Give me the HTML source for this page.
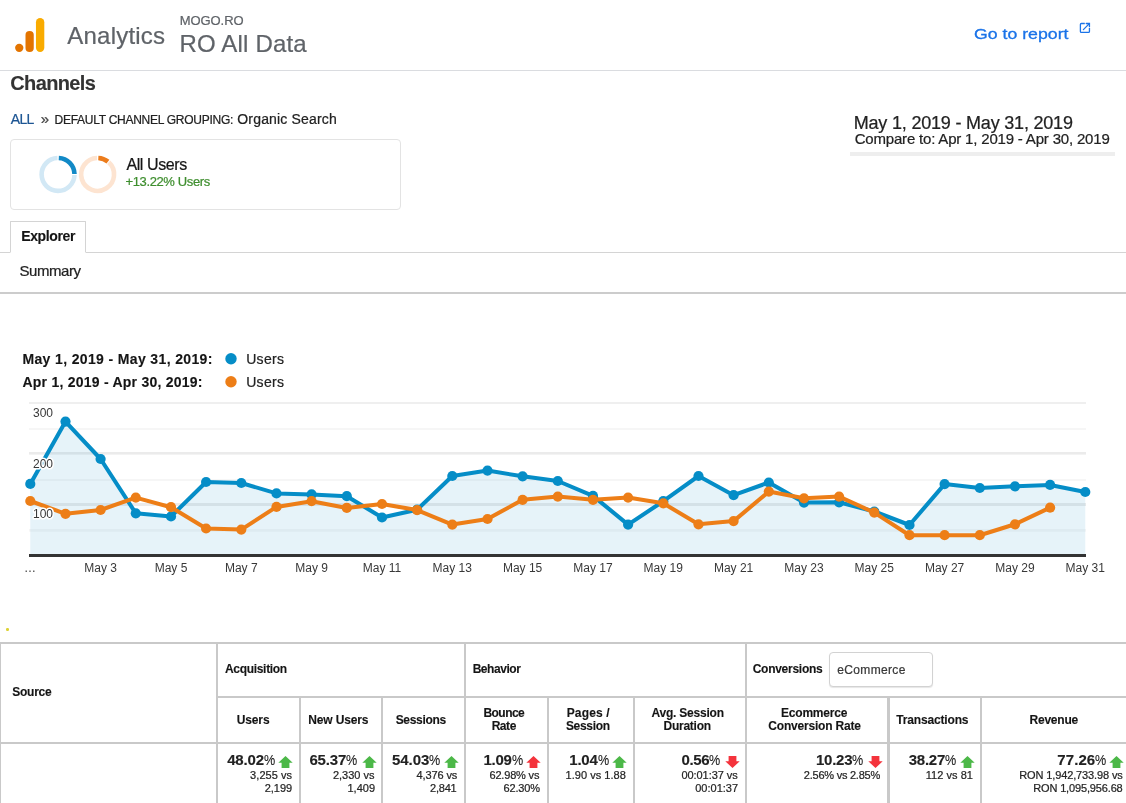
<!DOCTYPE html>
<html><head><meta charset="utf-8"><title>Analytics</title>
<style>
*{box-sizing:border-box;margin:0;padding:0}
html,body{width:1126px;height:803px;overflow:hidden;background:#fff}
body{font-family:"Liberation Sans",Arial,sans-serif;color:#222;position:relative}
.a{position:absolute}
.t{position:absolute;white-space:nowrap;line-height:1}
.t .n{font-weight:normal;display:inline-block;transform:scaleX(.84);transform-origin:0 50%;margin-right:-2.1px;letter-spacing:0}
</style></head><body>
<svg class="a" style="left:14px;top:18px" width="32" height="35" viewBox="14 18 32 35">
  <rect x="35.95" y="18.1" width="8.35" height="33.9" rx="4.17" fill="#f9ab00"/>
  <rect x="25.5" y="31" width="8.25" height="21" rx="4.12" fill="#e37400"/>
  <circle cx="19.25" cy="47.85" r="4.15" fill="#e37400"/>
</svg>
<svg class="a" style="left:1078px;top:21px" width="15" height="15" viewBox="1078 21 15 15" fill="none" stroke="#1a73e8" stroke-width="1.3">
  <path d="M1084.8 23.5H1081.4a1 1 0 0 0 -1 1V31.4a1 1 0 0 0 1 1H1088.45a1 1 0 0 0 1 -1V27.9"/><path d="M1086.2 23.5H1089.45V26.7M1089.3 23.65L1083.4 29.6" stroke-linecap="round"/>
</svg>
<div class="a" style="left:0;top:70px;width:1126px;height:1px;background:#dadce0"></div>
<div class="a" style="left:10px;top:139px;width:391px;height:71px;border:1px solid #e3e3e3;border-radius:4px"></div>
<svg class="a" style="left:38px;top:154px" width="80" height="42" viewBox="38 154 80 42" fill="none" stroke-width="4.6">
  <path d="M74.49 174.97A16.45 16.45 0 1 1 57.48 157.96" stroke="#d2e8f5"/>
  <path d="M58.77 157.97A16.45 16.45 0 0 1 74.49 173.97" stroke="#1289c6"/>
  <path d="M108.71 162.27A16.45 16.45 0 1 1 97.03 157.96" stroke="#fde4d1"/>
  <path d="M98.32 157.97A16.45 16.45 0 0 1 107.95 161.62" stroke="#ec7c1c"/>
</svg>
<div class="a" style="left:850px;top:152px;width:265px;height:4px;background:#eee"></div>
<div class="a" style="left:0;top:252px;width:1126px;height:1px;background:#d4d4d4"></div>
<div class="a" style="left:10px;top:221px;width:76px;height:32px;border:1px solid #d4d4d4;border-bottom-color:#fff;background:#fff;border-radius:1px 1px 0 0"></div>
<div class="a" style="left:0;top:292px;width:1126px;height:2px;background:#ccc"></div>
<svg class="a" style="left:222px;top:350px" width="18" height="40" viewBox="222 350 18 40"><circle cx="231" cy="358.7" r="5.7" fill="#058dc7"/><circle cx="231" cy="381.8" r="5.7" fill="#ed7e17"/></svg>
<div class="a" style="left:6px;top:628px;width:3px;height:3px;background:#ddd235;border-radius:1.2px"></div>
<svg class="a" style="left:0;top:395px" width="1126" height="190" viewBox="0 395 1126 190" font-family="'Liberation Sans',Arial,sans-serif" font-size="12">
<rect x="29" y="402" width="1057" height="2" fill="#efefef"/>
<rect x="29" y="428" width="1057" height="2" fill="#f6f6f6"/>
<rect x="29" y="452" width="1057" height="2.6" fill="#ebebeb"/>
<rect x="29" y="479" width="1057" height="2" fill="#f6f6f6"/>
<rect x="29" y="503" width="1057" height="3" fill="#ebebeb"/>
<rect x="29" y="529" width="1057" height="2.6" fill="#f6f6f6"/>
<polygon points="30.3,483.9 65.5,421.6 100.6,459.0 135.8,513.3 171.0,516.5 206.1,482.0 241.3,483.0 276.5,493.4 311.6,494.4 346.8,496.2 382.0,517.5 417.1,509.7 452.3,476.0 487.5,470.6 522.6,476.3 557.8,481.0 593.0,495.9 628.1,524.6 663.3,501.2 698.5,476.0 733.6,495.2 768.8,482.5 804.0,502.6 839.1,502.3 874.3,511.5 909.5,525.0 944.6,484.1 979.8,488.0 1015.0,486.3 1050.1,484.9 1085.3,492.0 1085.3,554 30.3,554" fill="#058dc7" fill-opacity="0.1"/>
<rect x="29" y="554" width="1057" height="3" fill="#333"/>
<polyline points="30.3,483.9 65.5,421.6 100.6,459.0 135.8,513.3 171.0,516.5 206.1,482.0 241.3,483.0 276.5,493.4 311.6,494.4 346.8,496.2 382.0,517.5 417.1,509.7 452.3,476.0 487.5,470.6 522.6,476.3 557.8,481.0 593.0,495.9 628.1,524.6 663.3,501.2 698.5,476.0 733.6,495.2 768.8,482.5 804.0,502.6 839.1,502.3 874.3,511.5 909.5,525.0 944.6,484.1 979.8,488.0 1015.0,486.3 1050.1,484.9 1085.3,492.0" fill="none" stroke="#058dc7" stroke-width="4.05" stroke-linejoin="round" stroke-linecap="round"/>
<g fill="#058dc7"><circle cx="30.3" cy="483.9" r="5.1"/><circle cx="65.5" cy="421.6" r="5.1"/><circle cx="100.6" cy="459.0" r="5.1"/><circle cx="135.8" cy="513.3" r="5.1"/><circle cx="171.0" cy="516.5" r="5.1"/><circle cx="206.1" cy="482.0" r="5.1"/><circle cx="241.3" cy="483.0" r="5.1"/><circle cx="276.5" cy="493.4" r="5.1"/><circle cx="311.6" cy="494.4" r="5.1"/><circle cx="346.8" cy="496.2" r="5.1"/><circle cx="382.0" cy="517.5" r="5.1"/><circle cx="417.1" cy="509.7" r="5.1"/><circle cx="452.3" cy="476.0" r="5.1"/><circle cx="487.5" cy="470.6" r="5.1"/><circle cx="522.6" cy="476.3" r="5.1"/><circle cx="557.8" cy="481.0" r="5.1"/><circle cx="593.0" cy="495.9" r="5.1"/><circle cx="628.1" cy="524.6" r="5.1"/><circle cx="663.3" cy="501.2" r="5.1"/><circle cx="698.5" cy="476.0" r="5.1"/><circle cx="733.6" cy="495.2" r="5.1"/><circle cx="768.8" cy="482.5" r="5.1"/><circle cx="804.0" cy="502.6" r="5.1"/><circle cx="839.1" cy="502.3" r="5.1"/><circle cx="874.3" cy="511.5" r="5.1"/><circle cx="909.5" cy="525.0" r="5.1"/><circle cx="944.6" cy="484.1" r="5.1"/><circle cx="979.8" cy="488.0" r="5.1"/><circle cx="1015.0" cy="486.3" r="5.1"/><circle cx="1050.1" cy="484.9" r="5.1"/><circle cx="1085.3" cy="492.0" r="5.1"/></g>
<polyline points="30.3,501.0 65.5,513.8 100.6,510.0 135.8,497.6 171.0,507.2 206.1,528.5 241.3,529.6 276.5,506.9 311.6,501.2 346.8,507.9 382.0,504.0 417.1,510.1 452.3,524.6 487.5,519.0 522.6,499.8 557.8,496.6 593.0,499.8 628.1,497.6 663.3,503.3 698.5,524.3 733.6,521.1 768.8,491.6 804.0,498.3 839.1,496.6 874.3,512.6 909.5,535.2 944.6,535.2 979.8,535.2 1015.0,524.3 1050.1,507.6" fill="none" stroke="#ed7e17" stroke-width="4.05" stroke-linejoin="round" stroke-linecap="round"/>
<g fill="#ed7e17"><circle cx="30.3" cy="501.0" r="5.1"/><circle cx="65.5" cy="513.8" r="5.1"/><circle cx="100.6" cy="510.0" r="5.1"/><circle cx="135.8" cy="497.6" r="5.1"/><circle cx="171.0" cy="507.2" r="5.1"/><circle cx="206.1" cy="528.5" r="5.1"/><circle cx="241.3" cy="529.6" r="5.1"/><circle cx="276.5" cy="506.9" r="5.1"/><circle cx="311.6" cy="501.2" r="5.1"/><circle cx="346.8" cy="507.9" r="5.1"/><circle cx="382.0" cy="504.0" r="5.1"/><circle cx="417.1" cy="510.1" r="5.1"/><circle cx="452.3" cy="524.6" r="5.1"/><circle cx="487.5" cy="519.0" r="5.1"/><circle cx="522.6" cy="499.8" r="5.1"/><circle cx="557.8" cy="496.6" r="5.1"/><circle cx="593.0" cy="499.8" r="5.1"/><circle cx="628.1" cy="497.6" r="5.1"/><circle cx="663.3" cy="503.3" r="5.1"/><circle cx="698.5" cy="524.3" r="5.1"/><circle cx="733.6" cy="521.1" r="5.1"/><circle cx="768.8" cy="491.6" r="5.1"/><circle cx="804.0" cy="498.3" r="5.1"/><circle cx="839.1" cy="496.6" r="5.1"/><circle cx="874.3" cy="512.6" r="5.1"/><circle cx="909.5" cy="535.2" r="5.1"/><circle cx="944.6" cy="535.2" r="5.1"/><circle cx="979.8" cy="535.2" r="5.1"/><circle cx="1015.0" cy="524.3" r="5.1"/><circle cx="1050.1" cy="507.6" r="5.1"/></g>
<text x="33" y="417" fill="#383838" stroke="#fff" stroke-width="3" stroke-linejoin="round" paint-order="stroke">300</text>
<text x="33" y="468" fill="#383838" stroke="#fff" stroke-width="3" stroke-linejoin="round" paint-order="stroke">200</text>
<text x="33" y="518" fill="#383838" stroke="#fff" stroke-width="3" stroke-linejoin="round" paint-order="stroke">100</text>
<text x="30" y="572" fill="#383838" text-anchor="middle">…</text>
<text x="100.6" y="572" fill="#383838" text-anchor="middle">May 3</text>
<text x="171.0" y="572" fill="#383838" text-anchor="middle">May 5</text>
<text x="241.3" y="572" fill="#383838" text-anchor="middle">May 7</text>
<text x="311.6" y="572" fill="#383838" text-anchor="middle">May 9</text>
<text x="382.0" y="572" fill="#383838" text-anchor="middle">May 11</text>
<text x="452.3" y="572" fill="#383838" text-anchor="middle">May 13</text>
<text x="522.6" y="572" fill="#383838" text-anchor="middle">May 15</text>
<text x="593.0" y="572" fill="#383838" text-anchor="middle">May 17</text>
<text x="663.3" y="572" fill="#383838" text-anchor="middle">May 19</text>
<text x="733.6" y="572" fill="#383838" text-anchor="middle">May 21</text>
<text x="804.0" y="572" fill="#383838" text-anchor="middle">May 23</text>
<text x="874.3" y="572" fill="#383838" text-anchor="middle">May 25</text>
<text x="944.6" y="572" fill="#383838" text-anchor="middle">May 27</text>
<text x="1015.0" y="572" fill="#383838" text-anchor="middle">May 29</text>
<text x="1085.3" y="572" fill="#383838" text-anchor="middle">May 31</text>
</svg>
<div class="a" style="left:0px;top:642px;width:1126px;height:2px;background:#c9c9c9"></div>
<div class="a" style="left:216px;top:696px;width:910px;height:2px;background:#c9c9c9"></div>
<div class="a" style="left:0px;top:742px;width:1126px;height:2px;background:#c9c9c9"></div>
<div class="a" style="left:0px;top:642px;width:1px;height:161px;background:#c9c9c9"></div>
<div class="a" style="left:216px;top:642px;width:2px;height:161px;background:#c9c9c9"></div>
<div class="a" style="left:299px;top:696px;width:2px;height:107px;background:#c9c9c9"></div>
<div class="a" style="left:381px;top:696px;width:2px;height:107px;background:#c9c9c9"></div>
<div class="a" style="left:547px;top:696px;width:2px;height:107px;background:#c9c9c9"></div>
<div class="a" style="left:633px;top:696px;width:2px;height:107px;background:#c9c9c9"></div>
<div class="a" style="left:980px;top:696px;width:2px;height:107px;background:#c9c9c9"></div>
<div class="a" style="left:464px;top:642px;width:2px;height:161px;background:#c9c9c9"></div>
<div class="a" style="left:745px;top:642px;width:2px;height:161px;background:#c9c9c9"></div>
<div class="a" style="left:887px;top:696px;width:3px;height:107px;background:#c9c9c9"></div>
<div class="a" style="left:829px;top:652px;width:104px;height:35px;border:1px solid #d2d2d2;border-radius:4px;background:#fff;box-shadow:0 1px 1px rgba(0,0,0,0.10)"></div>
<svg class="a" style="left:278.2px;top:755.9px" width="15" height="12" viewBox="-0.5 0 15 12"><path d="M7 0L14.2 6.7H10.9V12H3.1V6.7H-0.2Z" fill="#4cb848"/></svg>
<svg class="a" style="left:361.6px;top:755.9px" width="15" height="12" viewBox="-0.5 0 15 12"><path d="M7 0L14.2 6.7H10.9V12H3.1V6.7H-0.2Z" fill="#4cb848"/></svg>
<svg class="a" style="left:444.1px;top:755.9px" width="15" height="12" viewBox="-0.5 0 15 12"><path d="M7 0L14.2 6.7H10.9V12H3.1V6.7H-0.2Z" fill="#4cb848"/></svg>
<svg class="a" style="left:526.3px;top:755.9px" width="15" height="12" viewBox="-0.5 0 15 12"><path d="M7 0L14.2 6.7H10.9V12H3.1V6.7H-0.2Z" fill="#f4333c"/></svg>
<svg class="a" style="left:612.3px;top:755.9px" width="15" height="12" viewBox="-0.5 0 15 12"><path d="M7 0L14.2 6.7H10.9V12H3.1V6.7H-0.2Z" fill="#4cb848"/></svg>
<svg class="a" style="left:724.6px;top:755.9px" width="15" height="12" viewBox="-0.5 0 15 12"><path d="M3.1 0H10.9V5.3H14.2L7 12L-0.2 5.3H3.1Z" fill="#f4333c"/></svg>
<svg class="a" style="left:867.6px;top:755.9px" width="15" height="12" viewBox="-0.5 0 15 12"><path d="M3.1 0H10.9V5.3H14.2L7 12L-0.2 5.3H3.1Z" fill="#f4333c"/></svg>
<svg class="a" style="left:960.0px;top:755.9px" width="15" height="12" viewBox="-0.5 0 15 12"><path d="M7 0L14.2 6.7H10.9V12H3.1V6.7H-0.2Z" fill="#4cb848"/></svg>
<svg class="a" style="left:1109.4px;top:755.9px" width="15" height="12" viewBox="-0.5 0 15 12"><path d="M7 0L14.2 6.7H10.9V12H3.1V6.7H-0.2Z" fill="#4cb848"/></svg>
<div class="t" style="left:67.25px;top:24.00px;font-size:24px;color:#5f6368;letter-spacing:0.225px;-webkit-text-stroke:0.22px;">Analytics</div>
<div class="t" style="left:179.75px;top:14.00px;font-size:13px;color:#5f6368;letter-spacing:-0.075px;-webkit-text-stroke:0.22px;">MOGO.RO</div>
<div class="t" style="left:179.45px;top:32.00px;font-size:24px;color:#5f6368;letter-spacing:0.180px;-webkit-text-stroke:0.22px;">RO All Data</div>
<div class="t" style="left:973.65px;top:26.00px;font-size:15px;color:#1a73e8;transform-origin:0 0;transform:scaleX(1.1801);-webkit-text-stroke:0.3px #1a73e8;">Go to report</div>
<div class="t" style="left:10.30px;top:73.00px;font-size:20px;font-weight:bold;color:#333;letter-spacing:-0.643px;-webkit-text-stroke:0.12px;">Channels</div>
<div class="t" style="left:10.85px;top:112.00px;font-size:14px;color:#1c5593;letter-spacing:-0.675px;-webkit-text-stroke:0.22px;">ALL</div>
<div class="t" style="left:40.65px;top:111.00px;font-size:15px;color:#444;letter-spacing:0.450px;-webkit-text-stroke:0.22px;">»</div>
<div class="t" style="left:54.50px;top:114.00px;font-size:12px;color:#222;letter-spacing:-0.262px;-webkit-text-stroke:0.22px;">DEFAULT CHANNEL GROUPING:</div>
<div class="t" style="left:237.30px;top:112.00px;font-size:14px;color:#222;letter-spacing:0.173px;-webkit-text-stroke:0.22px;">Organic Search</div>
<div class="t" style="left:126.40px;top:157.00px;font-size:16px;color:#151515;letter-spacing:-0.394px;-webkit-text-stroke:0.22px;">All Users</div>
<div class="t" style="left:125.50px;top:175.00px;font-size:13px;color:#3e8e2e;letter-spacing:-0.375px;-webkit-text-stroke:0.22px;">+13.22% Users</div>
<div class="t" style="left:853.75px;top:114.00px;font-size:18px;color:#222;letter-spacing:-0.198px;-webkit-text-stroke:0.22px;">May 1, 2019 - May 31, 2019</div>
<div class="t" style="left:854.65px;top:131.00px;font-size:15px;color:#222;letter-spacing:-0.182px;-webkit-text-stroke:0.22px;">Compare to: Apr 1, 2019 - Apr 30, 2019</div>
<div class="t" style="left:21.25px;top:229.00px;font-size:14px;font-weight:bold;color:#151515;letter-spacing:-0.386px;-webkit-text-stroke:0.12px;">Explorer</div>
<div class="t" style="left:19.50px;top:263.00px;font-size:15px;color:#222;letter-spacing:-0.450px;-webkit-text-stroke:0.22px;">Summary</div>
<div class="t" style="left:22.45px;top:352.00px;font-size:14px;font-weight:bold;color:#151515;letter-spacing:0.363px;-webkit-text-stroke:0.12px;">May 1, 2019 - May 31, 2019:</div>
<div class="t" style="left:22.45px;top:375.00px;font-size:14px;font-weight:bold;color:#151515;letter-spacing:0.242px;-webkit-text-stroke:0.12px;">Apr 1, 2019 - Apr 30, 2019:</div>
<div class="t" style="left:246.15px;top:352.00px;font-size:14px;color:#222;letter-spacing:0.338px;-webkit-text-stroke:0.22px;">Users</div>
<div class="t" style="left:246.15px;top:375.00px;font-size:14px;color:#222;letter-spacing:0.338px;-webkit-text-stroke:0.22px;">Users</div>
<div class="t" style="left:12.30px;top:686.00px;font-size:12px;font-weight:bold;color:#151515;letter-spacing:-0.270px;-webkit-text-stroke:0.12px;">Source</div>
<div class="t" style="left:225.00px;top:663.00px;font-size:12px;font-weight:bold;color:#151515;letter-spacing:-0.315px;-webkit-text-stroke:0.12px;">Acquisition</div>
<div class="t" style="left:472.65px;top:663.00px;font-size:12px;font-weight:bold;color:#151515;letter-spacing:-0.450px;-webkit-text-stroke:0.12px;">Behavior</div>
<div class="t" style="left:752.70px;top:663.00px;font-size:12px;font-weight:bold;color:#151515;letter-spacing:-0.270px;-webkit-text-stroke:0.12px;">Conversions</div>
<div class="t" style="left:837.30px;top:664.00px;font-size:12px;color:#383838;letter-spacing:0.338px;-webkit-text-stroke:0.22px;">eCommerce</div>
<div class="t" style="left:236.70px;top:714.00px;font-size:12px;font-weight:bold;color:#151515;letter-spacing:-0.112px;-webkit-text-stroke:0.12px;">Users</div>
<div class="t" style="left:308.30px;top:714.00px;font-size:12px;font-weight:bold;color:#151515;letter-spacing:-0.169px;-webkit-text-stroke:0.12px;">New Users</div>
<div class="t" style="left:395.70px;top:714.00px;font-size:12px;font-weight:bold;color:#151515;letter-spacing:-0.321px;-webkit-text-stroke:0.12px;">Sessions</div>
<div class="t" style="left:483.45px;top:707.00px;font-size:12px;font-weight:bold;color:#151515;letter-spacing:-0.540px;-webkit-text-stroke:0.12px;">Bounce</div>
<div class="t" style="left:491.65px;top:720.00px;font-size:12px;font-weight:bold;color:#151515;letter-spacing:-0.450px;-webkit-text-stroke:0.12px;">Rate</div>
<div class="t" style="left:566.70px;top:707.00px;font-size:12px;font-weight:bold;color:#151515;letter-spacing:0.150px;-webkit-text-stroke:0.12px;">Pages /</div>
<div class="t" style="left:565.90px;top:720.00px;font-size:12px;font-weight:bold;color:#151515;letter-spacing:-0.300px;-webkit-text-stroke:0.12px;">Session</div>
<div class="t" style="left:651.40px;top:707.00px;font-size:12px;font-weight:bold;color:#151515;letter-spacing:-0.205px;-webkit-text-stroke:0.12px;">Avg. Session</div>
<div class="t" style="left:663.50px;top:720.00px;font-size:12px;font-weight:bold;color:#151515;letter-spacing:-0.257px;-webkit-text-stroke:0.12px;">Duration</div>
<div class="t" style="left:781.10px;top:707.00px;font-size:12px;font-weight:bold;color:#151515;letter-spacing:-0.225px;-webkit-text-stroke:0.12px;">Ecommerce</div>
<div class="t" style="left:768.30px;top:720.00px;font-size:12px;font-weight:bold;color:#151515;letter-spacing:-0.193px;-webkit-text-stroke:0.12px;">Conversion Rate</div>
<div class="t" style="left:896.25px;top:714.00px;font-size:12px;font-weight:bold;color:#151515;letter-spacing:-0.164px;-webkit-text-stroke:0.12px;">Transactions</div>
<div class="t" style="left:1029.50px;top:714.00px;font-size:12px;font-weight:bold;color:#151515;letter-spacing:-0.225px;-webkit-text-stroke:0.12px;">Revenue</div>
<div class="t" style="left:227.20px;top:752.00px;font-size:15px;font-weight:bold;color:#222;letter-spacing:-0.180px;-webkit-text-stroke:0.12px;"><b>48.02</b><span class="n">%</span></div>
<div class="t" style="left:309.45px;top:752.00px;font-size:15px;font-weight:bold;color:#222;letter-spacing:-0.180px;-webkit-text-stroke:0.12px;"><b>65.37</b><span class="n">%</span></div>
<div class="t" style="left:391.90px;top:752.00px;font-size:15px;font-weight:bold;color:#222;letter-spacing:0.000px;-webkit-text-stroke:0.12px;"><b>54.03</b><span class="n">%</span></div>
<div class="t" style="left:483.45px;top:752.00px;font-size:15px;font-weight:bold;color:#222;letter-spacing:-0.225px;-webkit-text-stroke:0.12px;"><b>1.09</b><span class="n">%</span></div>
<div class="t" style="left:569.30px;top:752.00px;font-size:15px;font-weight:bold;color:#222;letter-spacing:-0.225px;-webkit-text-stroke:0.12px;"><b>1.04</b><span class="n">%</span></div>
<div class="t" style="left:681.45px;top:752.00px;font-size:15px;font-weight:bold;color:#222;letter-spacing:-0.337px;-webkit-text-stroke:0.12px;"><b>0.56</b><span class="n">%</span></div>
<div class="t" style="left:816.05px;top:752.00px;font-size:15px;font-weight:bold;color:#222;letter-spacing:-0.270px;-webkit-text-stroke:0.12px;"><b>10.23</b><span class="n">%</span></div>
<div class="t" style="left:908.80px;top:752.00px;font-size:15px;font-weight:bold;color:#222;letter-spacing:-0.270px;-webkit-text-stroke:0.12px;"><b>38.27</b><span class="n">%</span></div>
<div class="t" style="left:1057.30px;top:752.00px;font-size:15px;font-weight:bold;color:#222;letter-spacing:0.090px;-webkit-text-stroke:0.12px;"><b>77.26</b><span class="n">%</span></div>
<div class="t" style="left:250.10px;top:770.00px;font-size:11px;color:#242424;letter-spacing:0.064px;-webkit-text-stroke:0.22px;">3,255 vs</div>
<div class="t" style="left:264.65px;top:783.00px;font-size:11px;color:#242424;letter-spacing:0.000px;-webkit-text-stroke:0.22px;">2,199</div>
<div class="t" style="left:332.90px;top:770.00px;font-size:11px;color:#242424;letter-spacing:0.000px;-webkit-text-stroke:0.22px;">2,330 vs</div>
<div class="t" style="left:347.50px;top:783.00px;font-size:11px;color:#242424;letter-spacing:0.000px;-webkit-text-stroke:0.22px;">1,409</div>
<div class="t" style="left:416.60px;top:770.00px;font-size:11px;color:#242424;letter-spacing:-0.129px;-webkit-text-stroke:0.22px;">4,376 vs</div>
<div class="t" style="left:430.10px;top:783.00px;font-size:11px;color:#242424;letter-spacing:-0.225px;-webkit-text-stroke:0.22px;">2,841</div>
<div class="t" style="left:489.45px;top:770.00px;font-size:11px;color:#242424;letter-spacing:-0.169px;-webkit-text-stroke:0.22px;">62.98% vs</div>
<div class="t" style="left:503.50px;top:783.00px;font-size:11px;color:#242424;letter-spacing:-0.180px;-webkit-text-stroke:0.22px;">62.30%</div>
<div class="t" style="left:565.50px;top:770.00px;font-size:11px;color:#242424;letter-spacing:0.041px;-webkit-text-stroke:0.22px;">1.90 vs 1.88</div>
<div class="t" style="left:681.40px;top:770.00px;font-size:11px;color:#242424;letter-spacing:-0.045px;-webkit-text-stroke:0.22px;">00:01:37 vs</div>
<div class="t" style="left:695.25px;top:783.00px;font-size:11px;color:#242424;letter-spacing:0.000px;-webkit-text-stroke:0.22px;">00:01:37</div>
<div class="t" style="left:803.85px;top:770.00px;font-size:11px;color:#242424;letter-spacing:-0.242px;-webkit-text-stroke:0.22px;">2.56% vs 2.85%</div>
<div class="t" style="left:925.65px;top:770.00px;font-size:11px;color:#242424;letter-spacing:0.056px;-webkit-text-stroke:0.22px;">112 vs 81</div>
<div class="t" style="left:1019.25px;top:770.00px;font-size:11px;color:#242424;letter-spacing:-0.125px;-webkit-text-stroke:0.22px;">RON 1,942,733.98 vs</div>
<div class="t" style="left:1033.25px;top:783.00px;font-size:11px;color:#242424;letter-spacing:-0.150px;-webkit-text-stroke:0.22px;">RON 1,095,956.68</div>
</body></html>
